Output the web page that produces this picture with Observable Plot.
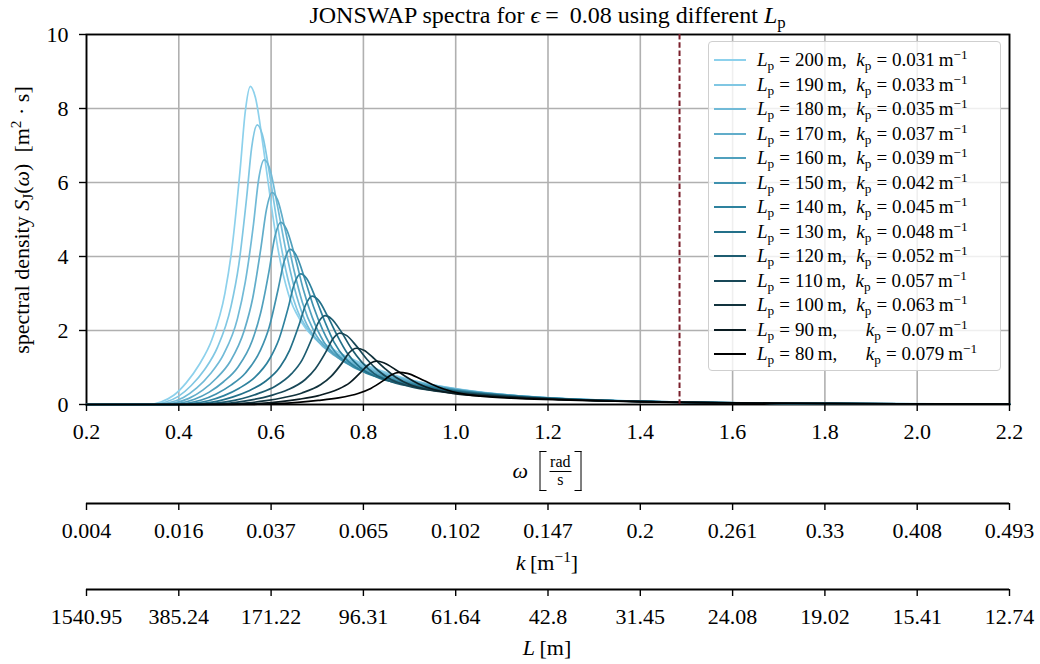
<!DOCTYPE html>
<html><head><meta charset="utf-8">
<script src="https://cdn.jsdelivr.net/npm/d3@7"></script>
<script src="https://cdn.jsdelivr.net/npm/@observablehq/plot@0.6"></script>
<style>
body{margin:0;background:#fff;}
#wrap{position:relative;width:1040px;height:664px;font-family:"Liberation Serif","DejaVu Serif",serif;color:#000;overflow:hidden}
.abs{position:absolute}
sub{font-size:0.7em;vertical-align:-0.28em;line-height:0}
sup{font-size:0.7em;vertical-align:0.5em;line-height:0}
.eq{margin:0 5px}
#title{left:86px;width:923px;top:1px;text-align:center;font-size:24px;line-height:28px;white-space:nowrap}
#legend{left:708px;top:41px;width:293px;height:330px;box-sizing:border-box;border:1.3px solid #cfcfcf;border-radius:4px;background:rgba(255,255,255,0.8)}
.lrow{position:absolute;left:0;height:22px;display:flex;align-items:center;white-space:nowrap;font-size:19px}
.sw{width:32px;height:2px;margin-left:5px;margin-right:11px}
.mid{display:flex;align-items:center;white-space:nowrap;transform:translate(-50%,-50%)}
.brk{display:inline-block;width:6px;height:38px;border:1.3px solid #000}
.brk.l{border-right:none}.brk.r{border-left:none}
.frac{display:inline-flex;flex-direction:column;align-items:center;font-size:16px;line-height:16px;margin:0 3px}
.frac .num{border-bottom:1.2px solid #000;padding:0 1px 1px}
#ylab{left:22px;top:220px;transform:translate(-50%,-50%) rotate(-90deg);white-space:nowrap;font-size:22px}
</style></head><body><div id="wrap"></div><script>
// ---- data ----
const Lp = [200,190,180,170,160,150,140,130,120,110,100,90,80];
const kpLabels = ["0.031","0.033","0.035","0.037","0.039","0.042","0.045","0.048","0.052","0.057","0.063","0.07","0.079"];
const xTicks = [0.2,0.4,0.6,0.8,1.0,1.2,1.4,1.6,1.8,2.0,2.2];
const yTicks = [0,2,4,6,8,10];
const kTickLabels = ["0.004","0.016","0.037","0.065","0.102","0.147","0.2","0.261","0.33","0.408","0.493"];
const LTickLabels = ["1540.95","385.24","171.22","96.31","61.64","42.8","31.45","24.08","19.02","15.41","12.74"];
const cutoffOmega = 1.485;

const omega_200 = [0.2,0.333,0.361,0.389,0.416,0.444,0.472,0.500,0.516,0.533,0.544,0.555,0.566,0.583,0.600,0.616,0.638,0.666,0.722,0.777,0.833,0.888,0.999,1.110,1.388,1.665,2.2];
const S_200 = [0,0.007,0.069,0.249,0.585,1.075,1.763,3.01,4.3,6.364,7.912,8.6,8.299,6.966,5.418,4.128,2.967,2.219,1.591,1.221,0.937,0.717,0.427,0.263,0.090,0.037,0.009];
const omega_190 = [0.2,0.342,0.370,0.399,0.427,0.456,0.484,0.513,0.530,0.547,0.558,0.570,0.581,0.598,0.615,0.632,0.655,0.684,0.740,0.797,0.854,0.911,1.025,1.139,1.424,1.709,2.2];
const S_190 = [0,0.006,0.060,0.219,0.514,0.945,1.550,2.646,3.78,5.594,6.955,7.56,7.295,6.124,4.763,3.629,2.608,1.950,1.399,1.074,0.824,0.631,0.376,0.231,0.079,0.033,0.009];
const omega_180 = [0.2,0.351,0.380,0.410,0.439,0.468,0.497,0.527,0.544,0.562,0.573,0.585,0.597,0.614,0.632,0.650,0.673,0.702,0.761,0.819,0.878,0.936,1.053,1.170,1.463,1.756,2.2];
const S_180 = [0,0.005,0.053,0.192,0.449,0.826,1.355,2.314,3.305,4.891,6.081,6.61,6.379,5.354,4.164,3.173,2.280,1.705,1.223,0.939,0.720,0.551,0.329,0.202,0.069,0.028,0.009];
const omega_170 = [0.2,0.361,0.391,0.422,0.452,0.482,0.512,0.542,0.560,0.578,0.590,0.602,0.614,0.632,0.650,0.668,0.693,0.723,0.783,0.843,0.903,0.964,1.084,1.204,1.506,1.807,2.2];
const S_170 = [0,0.005,0.046,0.166,0.390,0.716,1.175,2.006,2.865,4.240,5.272,5.73,5.529,4.641,3.610,2.750,1.977,1.478,1.060,0.814,0.625,0.478,0.285,0.175,0.060,0.025,0.009];
const omega_160 = [0.2,0.372,0.403,0.434,0.466,0.497,0.528,0.559,0.577,0.596,0.608,0.621,0.633,0.652,0.670,0.689,0.714,0.745,0.807,0.869,0.931,0.993,1.117,1.241,1.552,1.862,2.2];
const S_160 = [0,0.004,0.039,0.143,0.335,0.615,1.009,1.722,2.46,3.641,4.526,4.92,4.748,3.985,3.100,2.362,1.697,1.269,0.910,0.699,0.536,0.410,0.245,0.151,0.052,0.021,0.009];
const omega_150 = [0.2,0.385,0.417,0.449,0.481,0.513,0.545,0.577,0.596,0.615,0.628,0.641,0.654,0.673,0.692,0.712,0.737,0.769,0.833,0.897,0.962,1.026,1.154,1.282,1.603,1.923,2.2];
const S_150 = [0,0.003,0.034,0.122,0.285,0.524,0.859,1.467,2.095,3.101,3.855,4.19,4.043,3.394,2.640,2.011,1.446,1.081,0.775,0.595,0.457,0.349,0.208,0.128,0.044,0.018,0.009];
const omega_140 = [0.2,0.398,0.431,0.464,0.498,0.531,0.564,0.597,0.617,0.637,0.650,0.664,0.677,0.697,0.717,0.736,0.763,0.796,0.863,0.929,0.995,1.062,1.194,1.327,1.659,1.991,2.2];
const S_140 = [0,0.003,0.028,0.102,0.240,0.441,0.724,1.236,1.765,2.612,3.248,3.53,3.406,2.859,2.224,1.694,1.218,0.911,0.653,0.501,0.385,0.294,0.175,0.108,0.037,0.015,0.009];
const omega_130 = [0.2,0.413,0.448,0.482,0.516,0.551,0.585,0.620,0.640,0.661,0.675,0.689,0.702,0.723,0.744,0.764,0.792,0.826,0.895,0.964,1.033,1.102,1.239,1.377,1.722,2.066,2.2];
const S_130 = [0,0.002,0.023,0.085,0.199,0.366,0.601,1.026,1.465,2.168,2.696,2.93,2.827,2.373,1.846,1.406,1.011,0.756,0.542,0.416,0.319,0.244,0.146,0.090,0.031,0.013,0.009];
const omega_120 = [0.2,0.430,0.466,0.502,0.538,0.573,0.609,0.645,0.667,0.688,0.702,0.717,0.731,0.753,0.774,0.796,0.824,0.860,0.932,1.003,1.075,1.147,1.290,1.433,1.792,2.150,2.2];
const S_120 = [0,0.002,0.019,0.070,0.163,0.300,0.492,0.840,1.200,1.776,2.208,2.40,2.316,1.944,1.512,1.152,0.828,0.619,0.444,0.341,0.262,0.200,0.119,0.073,0.025,0.010,0.009];
const omega_110 = [0.2,0.449,0.487,0.524,0.561,0.599,0.636,0.674,0.696,0.719,0.734,0.749,0.764,0.786,0.808,0.831,0.861,0.898,0.973,1.048,1.123,1.198,1.347,1.497,1.872,2.2];
const S_110 = [0,0.002,0.015,0.056,0.131,0.241,0.396,0.676,0.965,1.428,1.776,1.93,1.862,1.563,1.216,0.926,0.666,0.498,0.357,0.274,0.210,0.161,0.096,0.059,0.020,0.009];
const omega_100 = [0.2,0.471,0.510,0.550,0.589,0.628,0.667,0.707,0.730,0.754,0.769,0.785,0.801,0.824,0.848,0.871,0.903,0.942,1.021,1.099,1.178,1.256,1.413,1.570,1.963,2.2];
const S_100 = [0,0.001,0.012,0.044,0.103,0.190,0.312,0.532,0.760,1.125,1.398,1.52,1.467,1.231,0.958,0.730,0.524,0.392,0.281,0.216,0.166,0.127,0.076,0.047,0.016,0.009];
const omega_90 = [0.2,0.497,0.538,0.579,0.621,0.662,0.703,0.745,0.770,0.794,0.811,0.828,0.844,0.869,0.894,0.919,0.952,0.993,1.076,1.159,1.241,1.324,1.490,1.655,2.069,2.2];
const S_90 = [0,0.001,0.009,0.034,0.080,0.146,0.240,0.410,0.585,0.866,1.076,1.17,1.129,0.948,0.737,0.562,0.404,0.302,0.216,0.166,0.128,0.098,0.058,0.036,0.012,0.009];
const omega_80 = [0.2,0.527,0.571,0.614,0.658,0.702,0.746,0.790,0.816,0.843,0.860,0.878,0.895,0.922,0.948,0.974,1.009,1.053,1.141,1.229,1.317,1.404,1.580,1.756,2.195,2.2];
const S_80 = [0,0.001,0.007,0.025,0.059,0.109,0.178,0.305,0.435,0.644,0.800,0.87,0.840,0.705,0.548,0.418,0.300,0.224,0.161,0.124,0.095,0.073,0.043,0.027,0.009,0.009];

// ---- styles ----
const colors = ["#8dd1ec","#80c7e3","#71bad7","#61adca","#50a0bd","#3f91ae","#2e829e","#237089","#1d5c70","#184757","#12333d","#0a1b21","#000000"];

const series = [
  [200,omega_200,S_200],[190,omega_190,S_190],[180,omega_180,S_180],[170,omega_170,S_170],
  [160,omega_160,S_160],[150,omega_150,S_150],[140,omega_140,S_140],[130,omega_130,S_130],
  [120,omega_120,S_120],[110,omega_110,S_110],[100,omega_100,S_100],[90,omega_90,S_90],[80,omega_80,S_80]
];
const rows = series.flatMap(([L, om, s]) => om.map((w, i) => ({L, omega: w, S: s[i]})));

const wrap = document.getElementById("wrap");
const font = '"Liberation Serif", "DejaVu Serif", serif';

// title
const title = document.createElement("div");
title.className = "abs"; title.id = "title";
title.innerHTML = 'JONSWAP spectra for <i>ϵ</i><span class="eq">=</span>&nbsp;0.08 using different <i>L</i><sub>p</sub>';
wrap.appendChild(title);

// main chart
const main = Plot.plot({
  width: 1040, height: 425,
  marginLeft: 86, marginRight: 31, marginTop: 10, marginBottom: 45,
  style: {fontFamily: font, fontSize: "22px", background: "transparent", overflow: "visible"},
  x: {domain: [0.2, 2.2]},
  y: {domain: [0, 10]},
  color: {type: "ordinal", domain: Lp, range: colors},
  marks: [
    Plot.gridX(xTicks, {stroke: "#b0b0b0", strokeOpacity: 1, strokeWidth: 1.6}),
    Plot.gridY(yTicks, {stroke: "#b0b0b0", strokeOpacity: 1, strokeWidth: 1.6}),
    Plot.frame({stroke: "#000", strokeWidth: 1.8}),
    Plot.line(rows, {x: "omega", y: "S", z: "L", stroke: "L", curve: "monotone-x", strokeWidth: 1.7}),
    Plot.ruleX([cutoffOmega], {stroke: "#7a1f2b", strokeWidth: 2, strokeDasharray: "5.5,2.8"}),
    Plot.axisX(xTicks, {tickSize: 7, tickPadding: 12, strokeWidth: 1.4, tickFormat: d => d.toFixed(1), label: null}),
    Plot.axisY(yTicks, {tickSize: 7, tickPadding: 11, strokeWidth: 1.4, tickFormat: d => String(d), label: null})
  ]
});
main.style.position = "absolute"; main.style.left = "0px"; main.style.top = "24px";
wrap.appendChild(main);

// secondary axes
function secondaryAxis(labels, top) {
  const m = new Map(xTicks.map((t, i) => [t, labels[i]]));
  const p = Plot.plot({
    width: 1040, height: 60,
    marginLeft: 86, marginRight: 31, marginTop: 0, marginBottom: 50,
    style: {fontFamily: font, fontSize: "22px", background: "transparent", overflow: "visible"},
    x: {domain: [0.2, 2.2]},
    y: {domain: [0, 1], axis: null},
    marks: [
      Plot.ruleY([0], {stroke: "#000", strokeWidth: 1.8}),
      Plot.axisX(xTicks, {tickSize: 7, tickPadding: 12, strokeWidth: 1.4, tickFormat: d => m.get(d), label: null})
    ]
  });
  p.style.position = "absolute"; p.style.left = "0px"; p.style.top = top + "px";
  wrap.appendChild(p);
}
secondaryAxis(kTickLabels, 493);
secondaryAxis(LTickLabels, 579);

// axis labels
function addLabel(html, x, y, size) {
  const d = document.createElement("div");
  d.className = "abs mid";
  d.style.left = x + "px"; d.style.top = y + "px"; d.style.fontSize = size + "px";
  d.innerHTML = html;
  wrap.appendChild(d);
}
addLabel('<span><i>ω</i>&nbsp;&nbsp;</span><span class="brk l"></span><span class="frac"><span class="num">rad</span><span>s</span></span><span class="brk r"></span>', 547, 471, 22);
addLabel('<span><i>k</i>&thinsp;[m<sup>−1</sup>]</span>', 547, 563, 22);
addLabel('<span><i>L</i>&thinsp;[m]</span>', 547, 648, 22);

const yl = document.createElement("div");
yl.className = "abs"; yl.id = "ylab";
yl.innerHTML = 'spectral density <i>S</i><sub>J</sub>(<i>ω</i>) &nbsp;[m<sup>2</sup> · s]';
wrap.appendChild(yl);

// legend
const lg = document.createElement("div");
lg.className = "abs"; lg.id = "legend";
Lp.forEach((L, i) => {
  const r = document.createElement("div");
  r.className = "lrow";
  r.style.top = (7 + i * 24.5) + "px";
  const gap = L < 100 ? "&nbsp;&nbsp;&nbsp;&nbsp;&nbsp;&nbsp;" : "&nbsp;&nbsp;";
  r.innerHTML = `<span class="sw" style="background:${colors[i]}"></span><span><i>L</i><sub>p</sub><span class="eq">=</span>${L}&thinsp;m,${gap}<i>k</i><sub>p</sub><span class="eq">=</span>${kpLabels[i]}&thinsp;m<sup>−1</sup></span>`;
  lg.appendChild(r);
});
wrap.appendChild(lg);
</script></body></html>
